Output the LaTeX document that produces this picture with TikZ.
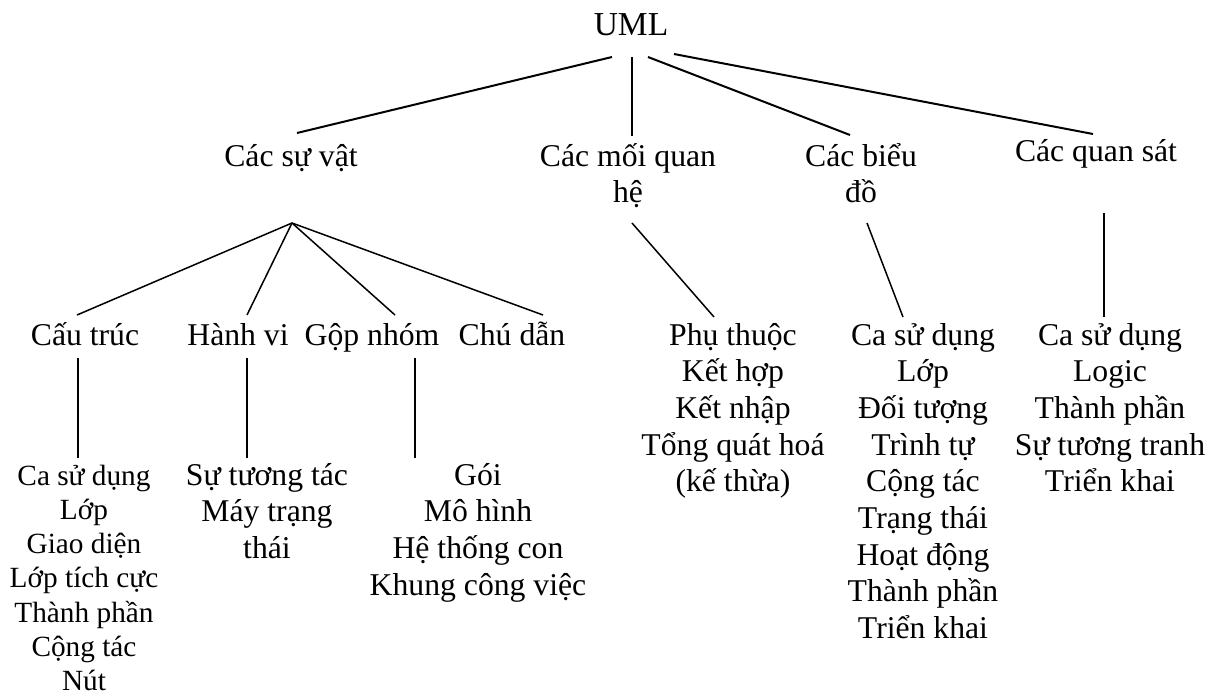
\documentclass[tikz,border=0pt]{standalone}
\usepackage{fontspec}
\setmainfont{Liberation Serif}
% centred stack of lines whose baseline is the first line's baseline
\newcommand{\colstack}[1]{\begin{tabular}[t]{@{}c@{}}#1\end{tabular}}
\begin{document}
\begin{tikzpicture}[x=1pt,y=-1pt,
  lbl/.style={inner sep=0pt, anchor=base, font=\fontsize{31.7}{36.7}\selectfont},
  small/.style={inner sep=0pt, anchor=base, font=\fontsize{29.3}{34.3}\selectfont},
  head/.style={inner sep=0pt, anchor=base, font=\fontsize{33.5}{38.5}\selectfont},
  link/.style={line width=1.5pt},
  toplink/.style={line width=2pt}]
\useasboundingbox (0,0) rectangle (1216,699);

% root
\node[head] (uml) at (631,35) {UML};

% second level
\node[lbl] (things) at (291,166) {Các sự vật};
\node[lbl] (rel)    at (628,166) {\colstack{Các mối quan\\hệ}};
\node[lbl] (diag)   at (861,166) {\colstack{Các biểu\\đồ}};
\node[lbl] (views)  at (1096,161) {Các quan sát};

% third level under "things"
\node[lbl] (struct) at (85,345)  {Cấu trúc};
\node[lbl] (behav)  at (238,345) {Hành vi};
\node[lbl] (group)  at (372,345) {Gộp nhóm};
\node[lbl] (note)   at (512,345) {Chú dẫn};

% lists
\node[lbl] (rellist)   at (733,345)  {\colstack{Phụ thuộc\\Kết hợp\\Kết nhập\\Tổng quát hoá\\(kế thừa)}};
\node[lbl] (diaglist)  at (923,345)  {\colstack{Ca sử dụng\\Lớp\\Đối tượng\\Trình tự\\Cộng tác\\Trạng thái\\Hoạt động\\Thành phần\\Triển khai}};
\node[lbl] (viewlist)  at (1110,345) {\colstack{Ca sử dụng\\Logic\\Thành phần\\Sự tương tranh\\Triển khai}};
\node[small] (structlist) at (84,485) {\colstack{Ca sử dụng\\Lớp\\Giao diện\\Lớp tích cực\\Thành phần\\Cộng tác\\Nút}};
\node[lbl] (behavlist) at (267,485) {\colstack{Sự tương tác\\Máy trạng\\thái}};
\node[lbl] (grouplist) at (478,485) {\colstack{Gói\\Mô hình\\Hệ thống con\\Khung công việc}};

% line ends
\coordinate (u1) at (612,57);   \coordinate (t1) at (297,133);
\coordinate (u2) at (632,57);   \coordinate (t2) at (632,136);
\coordinate (u3) at (648,57);   \coordinate (t3) at (850,135);
\coordinate (u4) at (674,54);   \coordinate (t4) at (1093,134);

\coordinate (apex) at (292,223);
\coordinate (s1) at (77,315);
\coordinate (s2) at (247,315);
\coordinate (s3) at (395,315);
\coordinate (s4) at (543,315);

\coordinate (r0) at (632,223);  \coordinate (r1) at (714,317);
\coordinate (d0) at (867,223);  \coordinate (d1) at (903,317);
\coordinate (v0) at (1104,213); \coordinate (v1) at (1104,317);

\coordinate (c0) at (78,358);   \coordinate (c1) at (78,458);
\coordinate (b0) at (247,358);  \coordinate (b1) at (247,458);
\coordinate (g0) at (415,358);  \coordinate (g1) at (415,458);

% connectors
\draw[toplink] (u1) -- (t1);
\draw[toplink] (u2) -- (t2);
\draw[toplink] (u3) -- (t3);
\draw[toplink] (u4) -- (t4);

\draw[link] (apex) -- (s1);
\draw[link] (apex) -- (s2);
\draw[link] (apex) -- (s3);
\draw[link] (apex) -- (s4);
\draw[link] (r0) -- (r1);
\draw[link] (d0) -- (d1);
\draw[link] (v0) -- (v1);
\draw[link] (c0) -- (c1);
\draw[link] (b0) -- (b1);
\draw[link] (g0) -- (g1);
\end{tikzpicture}
\end{document}
